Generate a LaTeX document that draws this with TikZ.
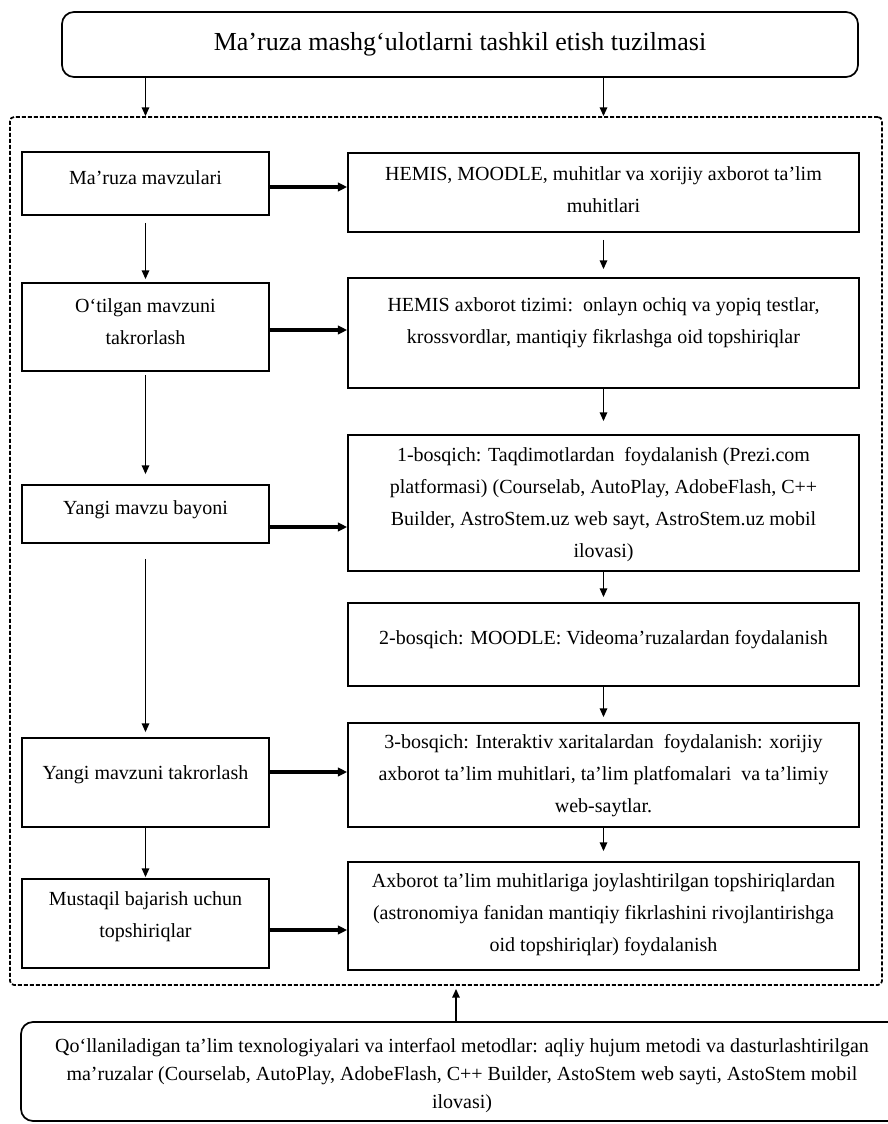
\documentclass[tikz,border=0pt]{standalone}
\usepackage{fontspec}
\setmainfont{Liberation Serif}
\usetikzlibrary{arrows.meta}
\begin{document}
\begin{tikzpicture}[x=0.75pt,y=-0.75pt,
  box/.style={draw, line width=1.3pt, inner sep=0pt},
  rbox/.style={box, rounded corners=9pt},
  dbox/.style={draw, line width=1.3pt, dash pattern=on 3pt off 1.5pt, rounded corners=3pt, inner sep=0pt},
  txt/.style={font=\fontsize{15}{24}\selectfont, align=center, inner sep=0pt, anchor=base},
  btxt/.style={font=\fontsize{15}{21}\selectfont, align=center, inner sep=0pt, anchor=base},
  ttxt/.style={font=\fontsize{19.5}{24}\selectfont, align=center, inner sep=0pt, anchor=base},
  arr/.style={-{Triangle[length=6.5pt,width=5.5pt]}, line width=1.2pt},
  harr/.style={-{Triangle[length=7pt,width=6.5pt]}, line width=2.4pt}]
\useasboundingbox (0,0) rectangle (888,1124);
\fill[white] (0,0) rectangle (888,1124);
\begin{scope}
\clip (0,0) rectangle (888,1124);
% title
\node[rbox, minimum width=597pt, minimum height=48.75pt] (T) at (460,44.5) {};
\node[ttxt] (Tt) at (460,51) {Ma’ruza mashg‘ulotlarni tashkil etish tuzilmasi};
% dashed frame
\node[dbox, minimum width=654pt, minimum height=651pt] (D) at (446,551) {};
% left column
\node[box, minimum width=185.25pt, minimum height=47.25pt] (L1) at (145.5,183.5) {};
\node[txt] (L1t) at (145.5,184) {Ma’ruza mavzulari};
\node[box, minimum width=185.25pt, minimum height=66pt] (L2) at (145.5,327) {};
\node[txt] (L2t) at (145.5,344) {O‘tilgan mavzuni\\takrorlash};
\node[box, minimum width=185.25pt, minimum height=43.5pt] (L3) at (145.5,514) {};
\node[txt] (L3t) at (145.5,514) {Yangi mavzu bayoni};
\node[box, minimum width=185.25pt, minimum height=66.75pt] (L4) at (145.5,782.5) {};
\node[txt] (L4t) at (145.5,779) {Yangi mavzuni takrorlash};
\node[box, minimum width=185.25pt, minimum height=66.75pt] (L5) at (145.5,923.5) {};
\node[txt] (L5t) at (145.5,937) {Mustaqil bajarish uchun\\topshiriqlar};
% right column
\node[box, minimum width=383.25pt, minimum height=59.25pt] (R1) at (603.5,192.5) {};
\node[txt] (R1t) at (603.5,212) {HEMIS, MOODLE, muhitlar va xorijiy axborot ta’lim\\muhitlari};
\node[box, minimum width=383.25pt, minimum height=82.5pt] (R2) at (603.5,333) {};
\node[txt] (R2t) at (603.5,343) {HEMIS axborot tizimi:\ \ onlayn ochiq va yopiq testlar,\\krossvordlar, mantiqiy fikrlashga oid topshiriqlar};
\node[box, minimum width=383.25pt, minimum height=102pt] (R3) at (603.5,503) {};
\node[txt] (R3t) at (603.5,557) {1-bosqich: Taqdimotlardan\ \ foydalanish (Prezi.com\\platformasi) (Courselab, AutoPlay, AdobeFlash, C++\\Builder, AstroStem.uz web sayt, AstroStem.uz mobil\\ilovasi)};
\node[box, minimum width=383.25pt, minimum height=62.25pt] (R4) at (603.5,644.5) {};
\node[txt] (R4t) at (603.5,644) {2-bosqich: MOODLE: Videoma’ruzalardan foydalanish};
\node[box, minimum width=383.25pt, minimum height=78pt] (R5) at (603.5,775) {};
\node[txt] (R5t) at (603.5,812) {3-bosqich: Interaktiv xaritalardan\ \ foydalanish: xorijiy\\axborot ta’lim muhitlari, ta’lim platfomalari\ \ va ta’limiy\\web-saytlar.};
\node[box, minimum width=383.25pt, minimum height=81pt] (R6) at (603.5,916) {};
\node[txt] (R6t) at (603.5,951) {Axborot ta’lim muhitlariga joylashtirilgan topshiriqlardan\\(astronomiya fanidan mantiqiy fikrlashini rivojlantirishga\\oid topshiriqlar) foydalanish};
% bottom box
\node[rbox, minimum width=661.5pt, minimum height=74.25pt] (B) at (462,1071.5) {};
\node[btxt] (Bt) at (462,1108) {Qo‘llaniladigan ta’lim texnologiyalari va interfaol metodlar: aqliy hujum metodi va dasturlashtirilgan\\ma’ruzalar (Courselab, AutoPlay, AdobeFlash, C++ Builder, AstoStem web sayti, AstoStem mobil\\ilovasi)};
% coordinates for connectors
\coordinate (h1) at (0,187);
\coordinate (h2) at (0,330);
\coordinate (h3) at (0,527);
\coordinate (h4) at (0,772);
\coordinate (h5) at (0,930);
\coordinate (bx) at (456,0);
% top arrows
\draw[arr] (T.south -| L1) -- (D.north -| L1);
\draw[arr] (T.south -| R1) -- (D.north -| R1);
% left vertical arrows
\draw[arr, shorten <=5.25pt, shorten >=2.25pt] (L1.south) -- (L2.north);
\draw[arr, shorten <=2.25pt, shorten >=7.5pt] (L2.south) -- (L3.north);
\draw[arr, shorten <=11.25pt, shorten >=3.75pt] (L3.south) -- (L4.north);
\draw[arr, shorten >=0.75pt] (L4.south) -- (L5.north);
% right vertical arrows
\draw[arr, shorten <=5.25pt, shorten >=6pt] (R1.south) -- (R2.north);
\draw[arr, shorten >=9.75pt] (R2.south) -- (R3.north);
\draw[arr, shorten >=3.75pt] (R3.south) -- (R4.north);
\draw[arr, shorten >=3.75pt] (R4.south) -- (R5.north);
\draw[arr, shorten >=7.5pt] (R5.south) -- (R6.north);
% horizontal arrows
\draw[harr] (L1.east |- h1) -- (R1.west |- h1);
\draw[harr] (L2.east |- h2) -- (R2.west |- h2);
\draw[harr] (L3.east |- h3) -- (R3.west |- h3);
\draw[harr] (L4.east |- h4) -- (R5.west |- h4);
\draw[harr] (L5.east |- h5) -- (R6.west |- h5);
% bottom arrow
\draw[arr, shorten >=2.25pt] (B.north -| bx) -- (D.south -| bx);
\end{scope}
\end{tikzpicture}
\end{document}
